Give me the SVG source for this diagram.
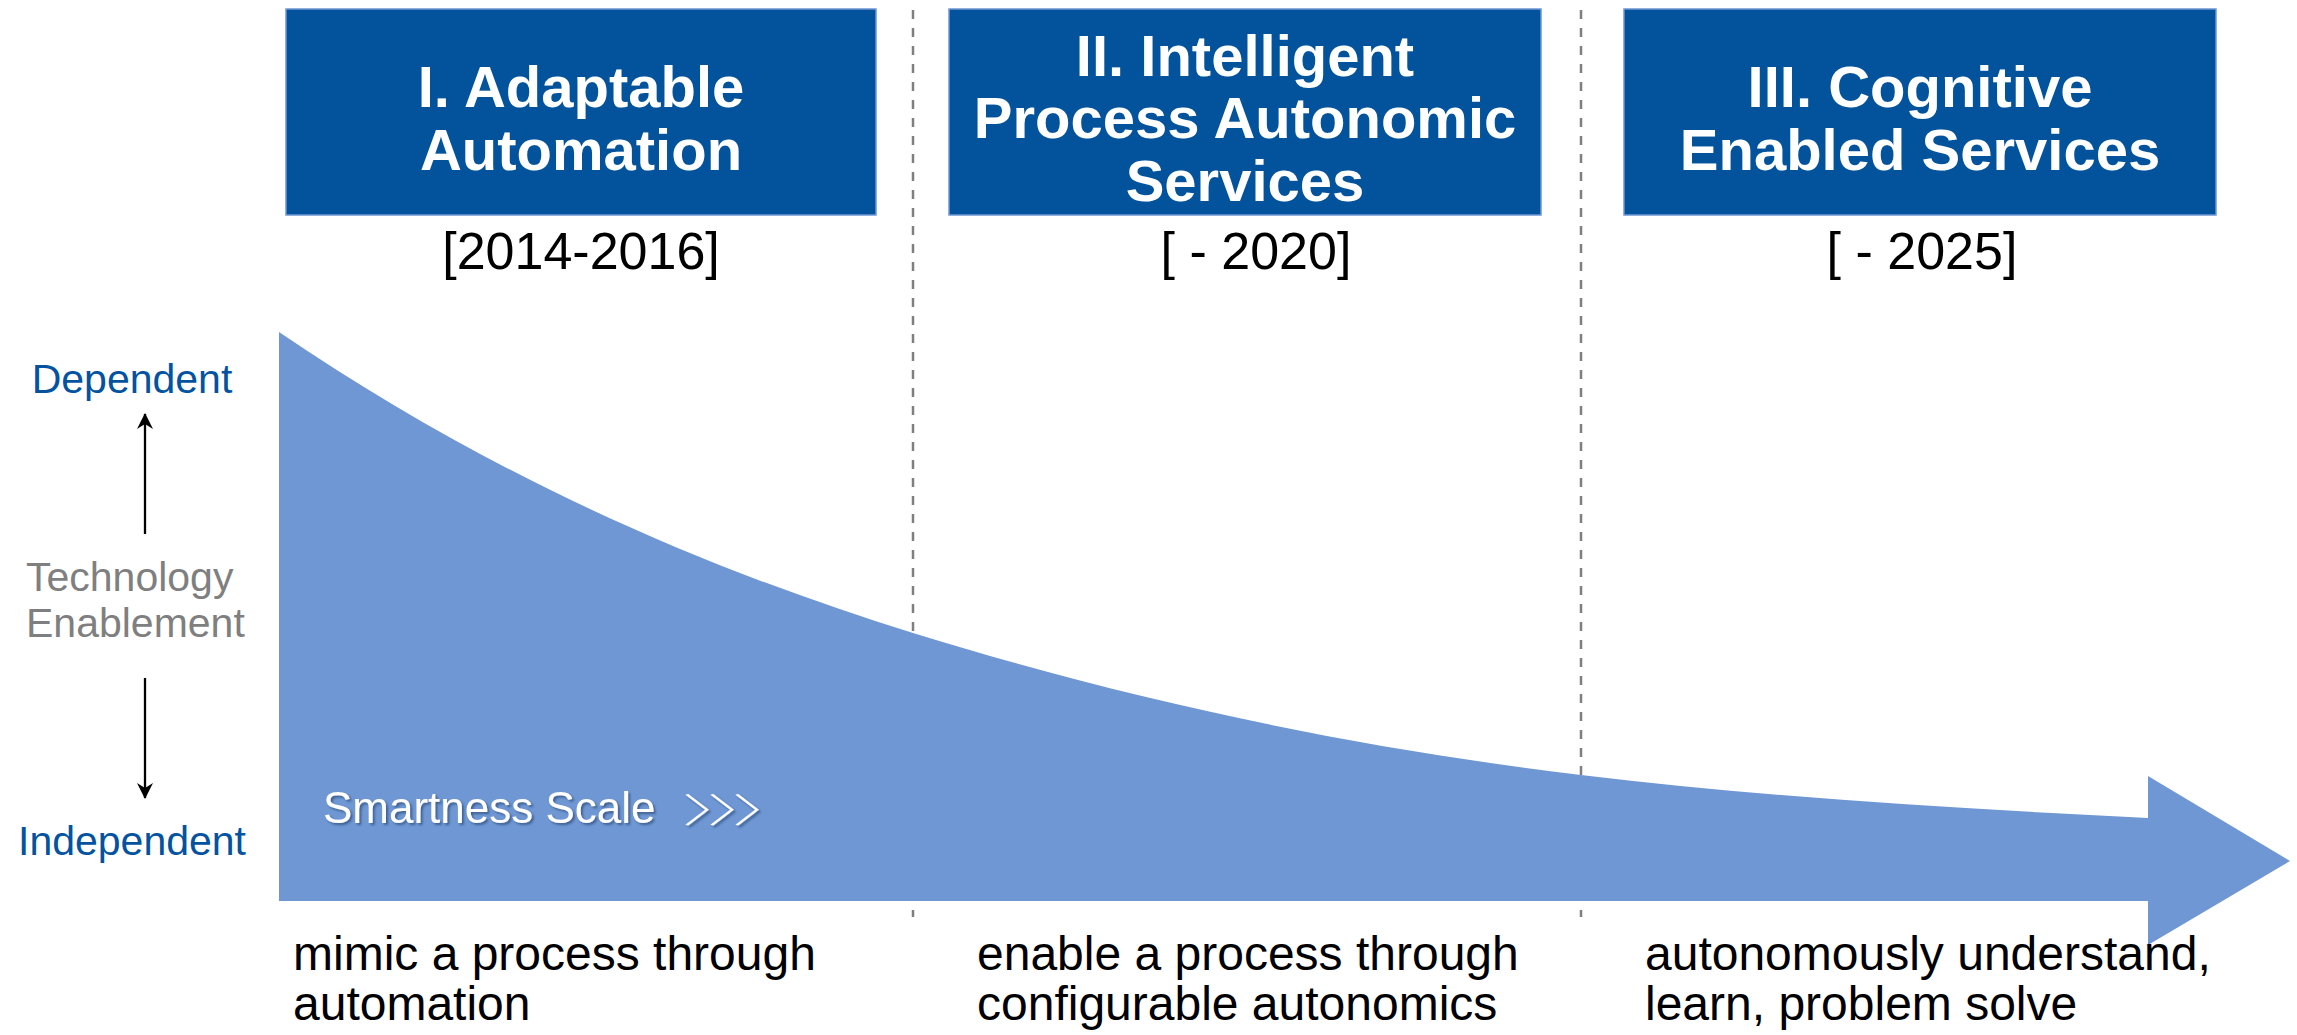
<svg xmlns="http://www.w3.org/2000/svg" width="2297" height="1035" viewBox="0 0 2297 1035">
  <style>
    .box { fill: #03539C; stroke: #6F97D4; stroke-width: 1.5; }
    .title { font-family: "Liberation Sans", Arial, sans-serif; font-weight: bold; font-size: 58px; fill: #FFFFFF; text-anchor: middle; }
    .year { font-family: "Liberation Sans", Arial, sans-serif; font-size: 52px; fill: #000000; text-anchor: middle; }
    .axis { font-family: "Liberation Sans", Arial, sans-serif; font-size: 41px; }
    .blue { fill: #0353A0; text-anchor: middle; }
    .gray { fill: #7F7F7F; }
    .desc { font-family: "Liberation Sans", Arial, sans-serif; font-size: 48px; fill: #000000; }
    .divider { stroke: #7F7F7F; stroke-width: 2.5; stroke-dasharray: 9 9; fill: none; }
    .conn { stroke: #000000; stroke-width: 2.3; fill: none; }
    .smart { font-family: "Liberation Sans", Arial, sans-serif; font-size: 44px; fill: #FFFFFF; }
    .chev { font-family: "Noto Sans CJK JP", sans-serif; font-size: 34px; font-weight: 300; fill: #FFFFFF; letter-spacing: -4.5px; }
  </style>
  <defs>
    <marker id="ah" viewBox="0 0 16 16" refX="15" refY="8" markerWidth="16" markerHeight="16" markerUnits="userSpaceOnUse" orient="auto">
      <path d="M0,0 L16,8 L0,16 L5,8 Z" fill="#000000"/>
    </marker>
    <filter id="shadow" x="-5%" y="-30%" width="110%" height="160%">
      <feDropShadow dx="2" dy="2" stdDeviation="1" flood-color="#1F3A66" flood-opacity="0.6"/>
    </filter>
  </defs>
  <rect x="0" y="0" width="2297" height="1035" fill="#FFFFFF"/>

  <g id="dividers">
    <line class="divider" x1="913" y1="10" x2="913" y2="917"/>
    <line class="divider" x1="1581" y1="10" x2="1581" y2="917"/>
  </g>

  <g id="smartness-arrow">
    <path d="M279,332 C490.3,475.7 701.7,567.5 913,633 C1135.7,702 1358.3,748.3 1581,775 C1770,797.7 1959,808.6 2148,818 L2148,776 L2290,861 L2148,945 L2148,901 L279,901 Z" fill="#6F97D4"/>
    <g filter="url(#shadow)">
      <text class="smart" x="323" y="823">Smartness Scale</text>
      <text class="chev" transform="translate(682 823) scale(2 1)">〉〉〉</text>
    </g>
  </g>

  <g id="phase1">
    <rect class="box" x="286" y="9" width="590" height="206"/>
    <text class="title" x="581" y="107">I. Adaptable</text>
    <text class="title" x="581" y="170">Automation</text>
    <text class="year" x="581" y="269">[2014-2016]</text>
  </g>

  <g id="phase2">
    <rect class="box" x="949" y="9" width="592" height="206"/>
    <text class="title" x="1245" y="76">II. Intelligent</text>
    <text class="title" x="1245" y="138">Process Autonomic</text>
    <text class="title" x="1245" y="201">Services</text>
    <text class="year" x="1256" y="269">[ - 2020]</text>
  </g>

  <g id="phase3">
    <rect class="box" x="1624" y="9" width="592" height="206"/>
    <text class="title" x="1920" y="107">III. Cognitive</text>
    <text class="title" x="1920" y="170">Enabled Services</text>
    <text class="year" x="1922" y="269">[ - 2025]</text>
  </g>

  <g id="axis-labels">
    <text class="axis blue" x="132" y="393">Dependent</text>
    <text class="axis gray" x="26" y="591">Technology</text>
    <text class="axis gray" x="26" y="637">Enablement</text>
    <text class="axis blue" x="132" y="855">Independent</text>
  </g>

  <g id="connectors">
    <line class="conn" x1="145" y1="534" x2="145" y2="414" marker-end="url(#ah)"/>
    <line class="conn" x1="145" y1="678" x2="145" y2="798" marker-end="url(#ah)"/>
  </g>

  <g id="descriptions">
    <text class="desc" x="293" y="970">mimic a process through</text>
    <text class="desc" x="293" y="1020">automation</text>
    <text class="desc" x="977" y="970">enable a process through</text>
    <text class="desc" x="977" y="1020">configurable autonomics</text>
    <text class="desc" x="1645" y="970">autonomously understand,</text>
    <text class="desc" x="1645" y="1020">learn, problem solve</text>
  </g>
</svg>
